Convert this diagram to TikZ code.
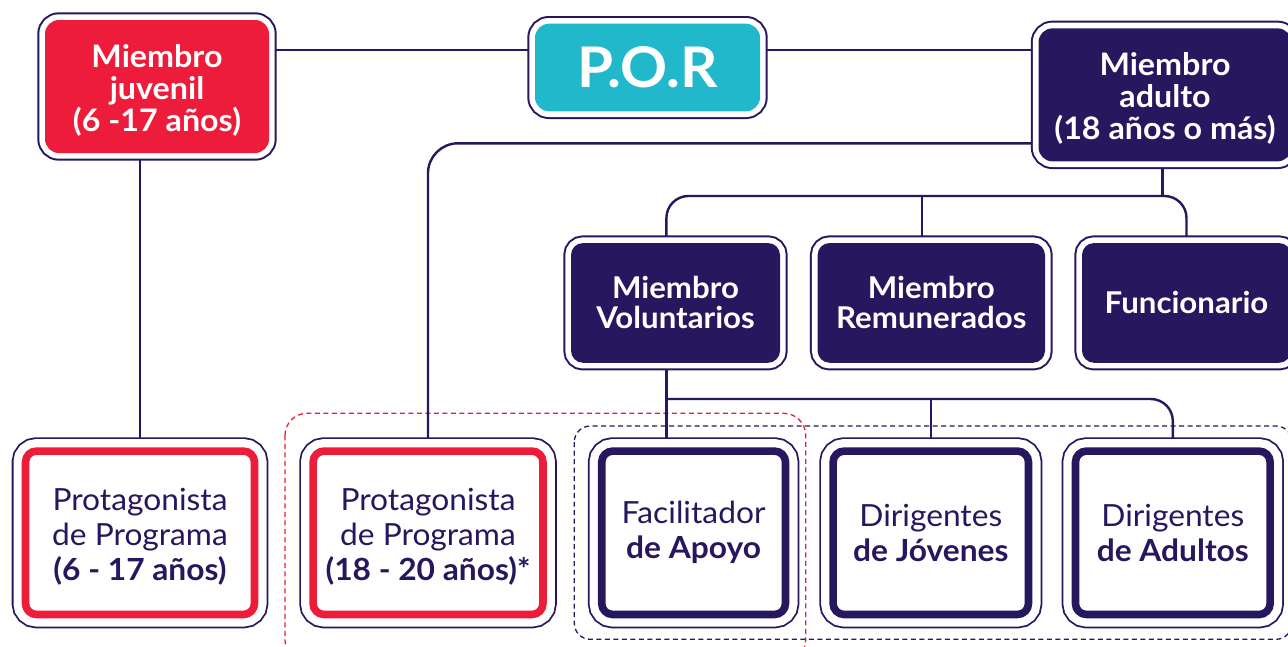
\documentclass[tikz,border=0pt]{standalone}
\usepackage{fontspec}
\setmainfont[FakeStretch=1.04]{Lato}
\definecolor{navy}{RGB}{39,23,94}
\definecolor{scoutred}{RGB}{237,28,58}
\definecolor{scoutcyan}{RGB}{33,184,204}
\newcommand\fTop{\fontsize{31}{32}\selectfont\bfseries}
\newcommand\fPor{\fontsize{56}{60}\selectfont\bfseries}
\newcommand\fMid{\fontsize{30}{30}\selectfont\bfseries}
\newcommand\fBot{\fontsize{30.5}{35}\selectfont}
\newcommand\topstrut{\rule{0pt}{31pt}}
\newcommand\botstrut{\rule{0pt}{29.5pt}}
\begin{document}
\begin{tikzpicture}[x=1pt,y=-1pt,
  conn/.style={draw=navy, line width=2.4pt},
  solidbox/.style={rounded corners=14pt, fill=#1, inner sep=0pt, outer sep=6.7pt,
    preaction={draw=navy, line width=15.4pt},
    preaction={draw=white, line width=11.4pt},
    text=white, align=center},
  outlinebox/.style={rounded corners=11pt, draw=#1, line width=7.6pt, fill=white,
    inner sep=0pt, outer sep=12.9pt,
    preaction={draw=navy, line width=27.6pt},
    preaction={draw=white, line width=24pt},
    text=navy, align=center, font=\fBot},
  dashbox/.style={draw=#1, line width=1.3pt, dash pattern=on 5pt off 3.5pt}
]
\useasboundingbox (0,0) rectangle (1288,646);
\clip (0,0) rectangle (1288,646);
\fill[white] (0,0) rectangle (1288,646);

% dashed groups
\draw[dashbox=scoutred, rounded corners=22pt] (285,413.3) rectangle (805.7,662);
\draw[dashbox=navy, rounded corners=16pt] (574.3,426) rectangle (1292,639.3);

% top row
\node[solidbox=scoutred, minimum width=224pt, minimum height=133pt, font=\fTop] (juv) at (157,86.5) {\topstrut Miembro\\juvenil\\(6 -17 años)};
\node[solidbox=scoutcyan, minimum width=225pt, minimum height=87.6pt, font=\fPor] (por) at (647.5,67.5) {P.O.R};
\node[solidbox=navy, minimum width=253pt, minimum height=133pt, font=\fTop] (adu) at (1165,94.85) {\topstrut Miembro\\adulto\\(18 años o más)};

% middle row
\node[solidbox=navy, rounded corners=12pt, minimum width=209pt, minimum height=119.7pt, font=\fMid] (vol) at (675.5,302.9) {Miembro\\Voluntarios};
\node[solidbox=navy, rounded corners=12pt, minimum width=227.4pt, minimum height=119.7pt, font=\fMid] (rem) at (931.3,302.9) {Miembro\\Remunerados};
\node[solidbox=navy, rounded corners=12pt, minimum width=209pt, minimum height=119.7pt, font=\fMid] (fun) at (1186.5,302.9) {Funcionario};

% bottom row
\node[outlinebox=scoutred, minimum width=229pt, minimum height=163.4pt] (p1) at (140,532.8) {\botstrut Protagonista\\de Programa\\\textbf{(6 - 17 años)}};
\node[outlinebox=scoutred, minimum width=229.9pt, minimum height=163.4pt] (p2) at (428,532.8) {\botstrut Protagonista\\de Programa\\\textbf{(18 - 20 años)*}};
\node[outlinebox=navy, minimum width=183.8pt, minimum height=163.4pt] (fac) at (693.6,532.8) {Facilitador\\\textbf{de Apoyo}};
\node[outlinebox=navy, minimum width=195.4pt, minimum height=163.4pt] (jov) at (930.8,532.8) {Dirigentes\\\textbf{de Jóvenes}};
\node[outlinebox=navy, minimum width=194.7pt, minimum height=163.4pt] (adl) at (1172.8,532.8) {Dirigentes\\\textbf{de Adultos}};

% helper coordinates
\coordinate (ytop) at (0,50);
\coordinate (yside) at (0,143.3);
\coordinate (ybarA) at (0,196);
\coordinate (ybarB) at (0,399);
\coordinate (xvol) at (666.4,0);
\coordinate (xrem) at (921.7,0);

% connectors
\draw[conn] (juv.east |- ytop) -- (por.west |- ytop);
\draw[conn] (por.east |- ytop) -- (adu.west |- ytop);
\draw[conn, rounded corners=30pt] (adu.west |- yside) -| (p2.north);
\draw[conn] (juv.south -| p1.north) -- (p1.north);
\draw[conn] (adu.south -| 1162.6,0) -- (1162.6,196);
\draw[conn, rounded corners=22pt] (vol.north -| xvol) |- (xrem |- ybarA) -| (fun.north);
\draw[conn] (xrem |- ybarA) -- (rem.north -| xrem);
\draw[conn] (vol.south -| xvol) -- (fac.north -| xvol);
\draw[conn, rounded corners=22pt] (xvol |- ybarB) -| (adl.north);
\draw[conn] (jov.north |- ybarB) -- (jov.north);
\end{tikzpicture}
\end{document}
